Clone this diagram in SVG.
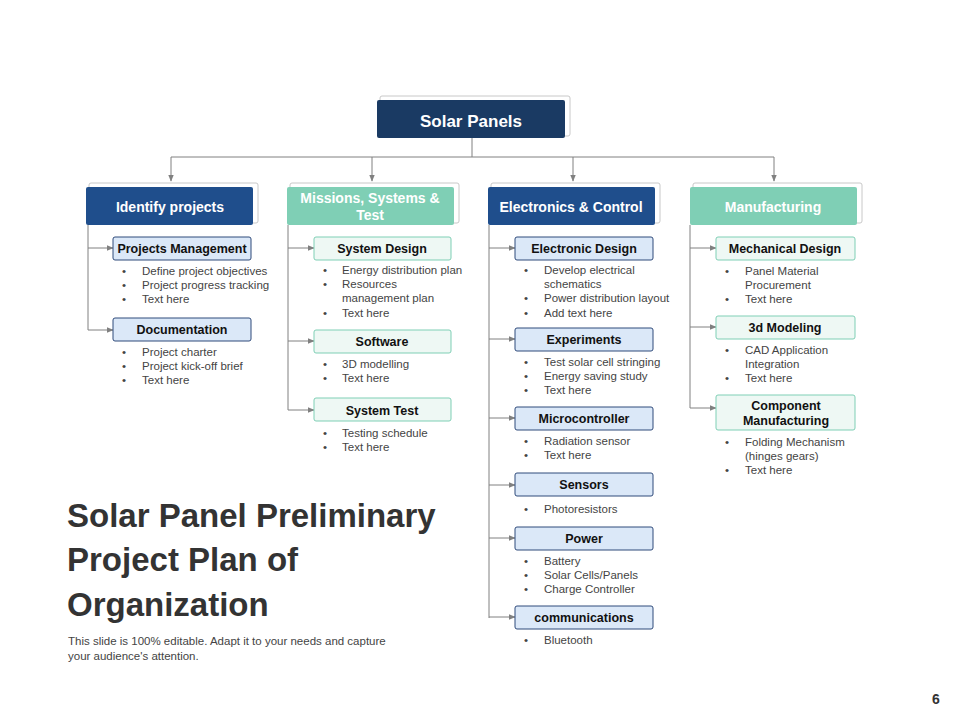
<svg xmlns="http://www.w3.org/2000/svg" width="960" height="720" viewBox="0 0 960 720">
<style>
text{font-family:"Liberation Sans",Arial,sans-serif}
.hd{fill:#1f4e8c}.ht{fill:#7fcfb5}
.fr{fill:#fff;stroke:#c8c8c8;stroke-width:1}
.ht-t{fill:#fff;font-size:14px;font-weight:bold;text-anchor:middle}
.sb{fill:#dbe8f8;stroke:#2e4a7a;stroke-width:1}
.sg{fill:#eef8f4;stroke:#7fcfb5;stroke-width:1}
.st{fill:#111;font-size:12.5px;font-weight:bold;text-anchor:middle}
.bl{fill:#444;font-size:11.5px}
.ln{stroke:#808080;stroke-width:1;fill:none}
</style>
<defs><marker id="a" viewBox="0 0 10 10" refX="9" refY="5" markerWidth="7" markerHeight="7" orient="auto"><path d="M0,1L10,5L0,9z" fill="#808080"/></marker></defs>
<rect width="960" height="720" fill="#fff"/>
<g id="connectors">
<path class="ln" d="M472,138V157M171,157H774"/>
<path class="ln" marker-end="url(#a)" d="M171,157V181"/>
<path class="ln" marker-end="url(#a)" d="M372,157V181"/>
<path class="ln" marker-end="url(#a)" d="M573,157V181"/>
<path class="ln" marker-end="url(#a)" d="M774,157V181"/>
<path class="ln" d="M88,225V330M288,225V410M489,225V618M690,225V408"/>
<path class="ln" marker-end="url(#a)" d="M88,248H113"/>
<path class="ln" marker-end="url(#a)" d="M88,330H113"/>
<path class="ln" marker-end="url(#a)" d="M288,248H314"/>
<path class="ln" marker-end="url(#a)" d="M288,341H314"/>
<path class="ln" marker-end="url(#a)" d="M288,410H314"/>
<path class="ln" marker-end="url(#a)" d="M489,248H515"/>
<path class="ln" marker-end="url(#a)" d="M489,339H515"/>
<path class="ln" marker-end="url(#a)" d="M489,418H515"/>
<path class="ln" marker-end="url(#a)" d="M489,485H515"/>
<path class="ln" marker-end="url(#a)" d="M489,538H515"/>
<path class="ln" marker-end="url(#a)" d="M489,617H515"/>
<path class="ln" marker-end="url(#a)" d="M690,248H716"/>
<path class="ln" marker-end="url(#a)" d="M690,327H716"/>
<path class="ln" marker-end="url(#a)" d="M690,408H716"/>
</g>
<g id="root"><rect class="fr" x="380" y="96" width="190" height="40" rx="2"/><rect x="377" y="100" width="188" height="38" rx="2" fill="#1a3a63"/><text x="471" y="127" fill="#fff" font-size="17" font-weight="bold" text-anchor="middle">Solar Panels</text></g>
<g id="h1"><rect class="fr" x="89" y="183" width="169" height="40" rx="2"/><rect class="hd" x="86" y="187" width="167" height="38" rx="2"/><text class="ht-t" x="170" y="212">Identify projects</text></g>
<g id="h2"><rect class="fr" x="290" y="183" width="169" height="40" rx="2"/><rect class="ht" x="287" y="187" width="167" height="38" rx="2"/><text class="ht-t" x="370" y="203">Missions, Systems &amp;</text><text class="ht-t" x="370" y="220">Test</text></g>
<g id="h3"><rect class="fr" x="491" y="183" width="169" height="40" rx="2"/><rect class="hd" x="488" y="187" width="167" height="38" rx="2"/><text class="ht-t" x="571" y="212">Electronics &amp; Control</text></g>
<g id="h4"><rect class="fr" x="693" y="183" width="169" height="40" rx="2"/><rect class="ht" x="690" y="187" width="167" height="38" rx="2"/><text class="ht-t" x="773" y="212">Manufacturing</text></g>

<g id="pm"><rect class="sb" x="113" y="237" width="138" height="23" rx="2"/><text class="st" x="182" y="253">Projects Management</text></g>
<g id="pmb" class="bl"><text x="122" y="275">•</text><text x="142" y="275">Define project objectives</text><text x="122" y="289">•</text><text x="142" y="289">Project progress tracking</text><text x="122" y="303">•</text><text x="142" y="303">Text here</text></g>
<g id="doc"><rect class="sb" x="113" y="318" width="138" height="23" rx="2"/><text class="st" x="182" y="334">Documentation</text></g>
<g class="bl"><text x="122" y="356">•</text><text x="142" y="356">Project charter</text><text x="122" y="370">•</text><text x="142" y="370">Project kick-off brief</text><text x="122" y="384">•</text><text x="142" y="384">Text here</text></g>

<g id="sd"><rect class="sg" x="314" y="237" width="137" height="23" rx="2"/><text class="st" x="382" y="253">System Design</text></g>
<g class="bl"><text x="323" y="274">•</text><text x="342" y="274">Energy distribution plan</text><text x="323" y="288">•</text><text x="342" y="288">Resources</text><text x="342" y="302">management plan</text><text x="323" y="317">•</text><text x="342" y="317">Text here</text></g>
<g id="sw"><rect class="sg" x="314" y="330" width="137" height="23" rx="2"/><text class="st" x="382" y="346">Software</text></g>
<g class="bl"><text x="323" y="368">•</text><text x="342" y="368">3D modelling</text><text x="323" y="382">•</text><text x="342" y="382">Text here</text></g>
<g id="stt"><rect class="sg" x="314" y="398" width="137" height="23" rx="2"/><text class="st" x="382" y="415">System Test</text></g>
<g class="bl"><text x="323" y="437">•</text><text x="342" y="437">Testing schedule</text><text x="323" y="451">•</text><text x="342" y="451">Text here</text></g>

<g id="ed"><rect class="sb" x="515" y="237" width="138" height="23" rx="2"/><text class="st" x="584" y="253">Electronic Design</text></g>
<g class="bl"><text x="524" y="274">•</text><text x="544" y="274">Develop electrical</text><text x="544" y="288">schematics</text><text x="524" y="302">•</text><text x="544" y="302">Power distribution layout</text><text x="524" y="317">•</text><text x="544" y="317">Add text here</text></g>
<g id="ex"><rect class="sb" x="515" y="328" width="138" height="23" rx="2"/><text class="st" x="584" y="344">Experiments</text></g>
<g class="bl"><text x="524" y="366">•</text><text x="544" y="366">Test solar cell stringing</text><text x="524" y="380">•</text><text x="544" y="380">Energy saving study</text><text x="524" y="394">•</text><text x="544" y="394">Text here</text></g>
<g id="mc"><rect class="sb" x="515" y="407" width="138" height="23" rx="2"/><text class="st" x="584" y="423">Microcontroller</text></g>
<g class="bl"><text x="524" y="445">•</text><text x="544" y="445">Radiation sensor</text><text x="524" y="459">•</text><text x="544" y="459">Text here</text></g>
<g id="se"><rect class="sb" x="515" y="473" width="138" height="23" rx="2"/><text class="st" x="584" y="489">Sensors</text></g>
<g class="bl"><text x="524" y="513">•</text><text x="544" y="513">Photoresistors</text></g>
<g id="pw"><rect class="sb" x="515" y="527" width="138" height="23" rx="2"/><text class="st" x="584" y="543">Power</text></g>
<g class="bl"><text x="524" y="565">•</text><text x="544" y="565">Battery</text><text x="524" y="579">•</text><text x="544" y="579">Solar Cells/Panels</text><text x="524" y="593">•</text><text x="544" y="593">Charge Controller</text></g>
<g id="cm"><rect class="sb" x="515" y="606" width="138" height="23" rx="2"/><text class="st" x="584" y="622">communications</text></g>
<g class="bl"><text x="524" y="644">•</text><text x="544" y="644">Bluetooth</text></g>

<g id="md"><rect class="sg" x="716" y="237" width="139" height="23" rx="2"/><text class="st" x="785" y="253">Mechanical Design</text></g>
<g class="bl"><text x="725" y="275">•</text><text x="745" y="275">Panel Material</text><text x="745" y="289">Procurement</text><text x="725" y="303">•</text><text x="745" y="303">Text here</text></g>
<g id="m3"><rect class="sg" x="716" y="316" width="139" height="23" rx="2"/><text class="st" x="785" y="332">3d Modeling</text></g>
<g class="bl"><text x="725" y="354">•</text><text x="745" y="354">CAD Application</text><text x="745" y="368">Integration</text><text x="725" y="382">•</text><text x="745" y="382">Text here</text></g>
<g id="cmf"><rect class="sg" x="716" y="395" width="139" height="35" rx="2"/><text class="st" x="786" y="410">Component</text><text class="st" x="786" y="425">Manufacturing</text></g>
<g class="bl"><text x="725" y="446">•</text><text x="745" y="446">Folding Mechanism</text><text x="745" y="460">(hinges gears)</text><text x="725" y="474">•</text><text x="745" y="474">Text here</text></g>

<g id="title" fill="#333" font-size="33" font-weight="bold" style="font-family:Lato,'Liberation Sans',sans-serif"><text x="67" y="527">Solar Panel Preliminary</text><text x="67" y="571">Project Plan of</text><text x="67" y="616">Organization</text></g>
<g fill="#444" font-size="11.5"><text x="68" y="645">This slide is 100% editable. Adapt it to your needs and capture</text><text x="68" y="660">your audience's attention.</text></g>
<text x="936" y="704" fill="#333" font-size="14" font-weight="bold" text-anchor="middle">6</text>
</svg>
